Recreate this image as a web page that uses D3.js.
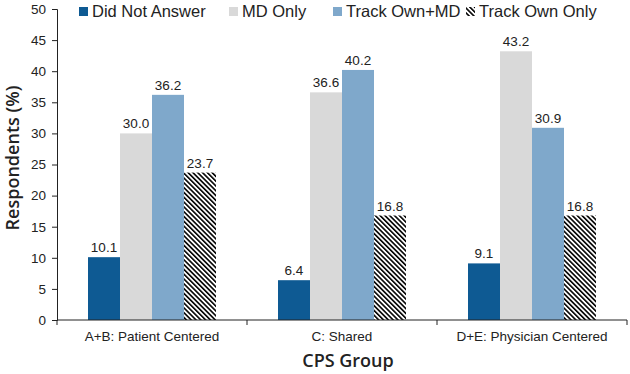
<html>
<head>
  <script src="https://d3js.org/d3.v7.min.js"></script>
  <style>
    body { margin: 0; background: #fff; }
    .tick text { font-family: "Liberation Sans", Arial, sans-serif; font-size: 13.5px; fill: #222; }
    .axis path, .axis line { stroke: #222; }
    .glabel { font-family: "Liberation Sans", Arial, sans-serif; font-size: 13.5px; fill: #222; }
    .value { font-family: "Liberation Sans", Arial, sans-serif; font-size: 13.5px; fill: #222; }
    .legend text { font-family: "Liberation Sans", Arial, sans-serif; font-size: 16.5px; fill: #222; }
    .axis-title { font-family: "Open Sans", sans-serif; font-size: 18px; font-weight: 600; fill: #222; }
  </style>
</head>
<body>
  <svg id="chart" width="630" height="374"></svg>
  <script>
    const groups = ["A+B: Patient Centered", "C: Shared", "D+E: Physician Centered"];
    const series = ["Did Not Answer", "MD Only", "Track Own+MD", "Track Own Only"];
    const didNotAnswer = [10.1, 6.4, 9.1];
    const mdOnly = [30.0, 36.6, 43.2];
    const trackOwnMd = [36.2, 40.2, 30.9];
    const trackOwnOnly = [23.7, 16.8, 16.8];
    const yTicks = [0, 5, 10, 15, 20, 25, 30, 35, 40, 45, 50];

    const values = [didNotAnswer, mdOnly, trackOwnMd, trackOwnOnly];
    const colors = ["#0e5a93", "#d9d9d9", "#7fa8cb", "url(#hatch)"];

    const svg = d3.select("#chart");
    const margin = { top: 9, right: 3, bottom: 54, left: 57 };
    const chartWidth = 630 - margin.left - margin.right;
    const chartHeight = 374 - margin.top - margin.bottom;

    // hatch pattern, "\\\" direction
    const defs = svg.append("defs");
    const pat = defs.append("pattern")
      .attr("id", "hatch")
      .attr("patternUnits", "userSpaceOnUse")
      .attr("width", 3.4).attr("height", 3.4)
      .attr("patternTransform", "rotate(-45)");
    pat.append("rect").attr("width", 3.4).attr("height", 3.4).attr("fill", "#fff");
    pat.append("rect").attr("width", 1.6).attr("height", 3.4).attr("fill", "#000");

    const chart = svg.append("g")
      .attr("transform", "translate(" + margin.left + "," + margin.top + ")");

    // scales
    const x0 = d3.scaleBand().domain(groups).range([0, chartWidth]).padding(0);
    const x1 = d3.scaleBand().domain(series).range([31, x0.bandwidth() - 31]).padding(0);
    const y = d3.scaleLinear().domain([0, 50]).range([chartHeight, 0]);

    // y axis
    chart.append("g")
      .attr("class", "axis")
      .call(d3.axisLeft(y).tickValues(yTicks).tickSize(5).tickPadding(6).tickFormat(d3.format("d")));

    // bars
    series.forEach((s, si) => {
      groups.forEach((g, gi) => {
        const v = values[si][gi];
        chart.append("rect")
          .attr("x", x0(g) + x1(s))
          .attr("y", y(v))
          .attr("width", x1.bandwidth())
          .attr("height", chartHeight - y(v))
          .attr("fill", colors[si]);
        chart.append("text")
          .attr("class", "value")
          .attr("x", x0(g) + x1(s) + x1.bandwidth() / 2)
          .attr("y", y(v) - 5)
          .attr("text-anchor", "middle")
          .text(v.toFixed(1));
      });
    });

    // x axis
    const xAxis = chart.append("g")
      .attr("class", "axis")
      .attr("transform", "translate(0," + chartHeight + ")");
    xAxis.append("line").attr("x1", 0).attr("x2", chartWidth).attr("stroke", "#222");
    xAxis.selectAll(".sep")
      .data(d3.range(groups.length + 1))
      .join("line")
      .attr("x1", i => i * x0.bandwidth()).attr("x2", i => i * x0.bandwidth())
      .attr("y1", 0).attr("y2", 5).attr("stroke", "#222");
    xAxis.selectAll(".glabel")
      .data(groups)
      .join("text")
      .attr("class", "glabel")
      .attr("x", d => x0(d) + x0.bandwidth() / 2)
      .attr("y", 21)
      .attr("text-anchor", "middle")
      .text(d => d);

    // legend
    const legendX = [79, 229, 333, 466];
    const legend = svg.append("g").attr("class", "legend");
    series.forEach((s, i) => {
      legend.append("rect")
        .attr("x", legendX[i]).attr("y", 7)
        .attr("width", 9).attr("height", 9)
        .attr("fill", colors[i]);
      legend.append("text")
        .attr("x", legendX[i] + 13).attr("y", 17)
        .text(s);
    });

    // axis titles
    svg.append("text")
      .attr("class", "axis-title")
      .attr("transform", "translate(19,158) rotate(-90)")
      .attr("text-anchor", "middle")
      .text("Respondents (%)");
    svg.append("text")
      .attr("class", "axis-title")
      .attr("x", 348).attr("y", 367)
      .attr("text-anchor", "middle")
      .text("CPS Group");
  </script>
</body>
</html>
